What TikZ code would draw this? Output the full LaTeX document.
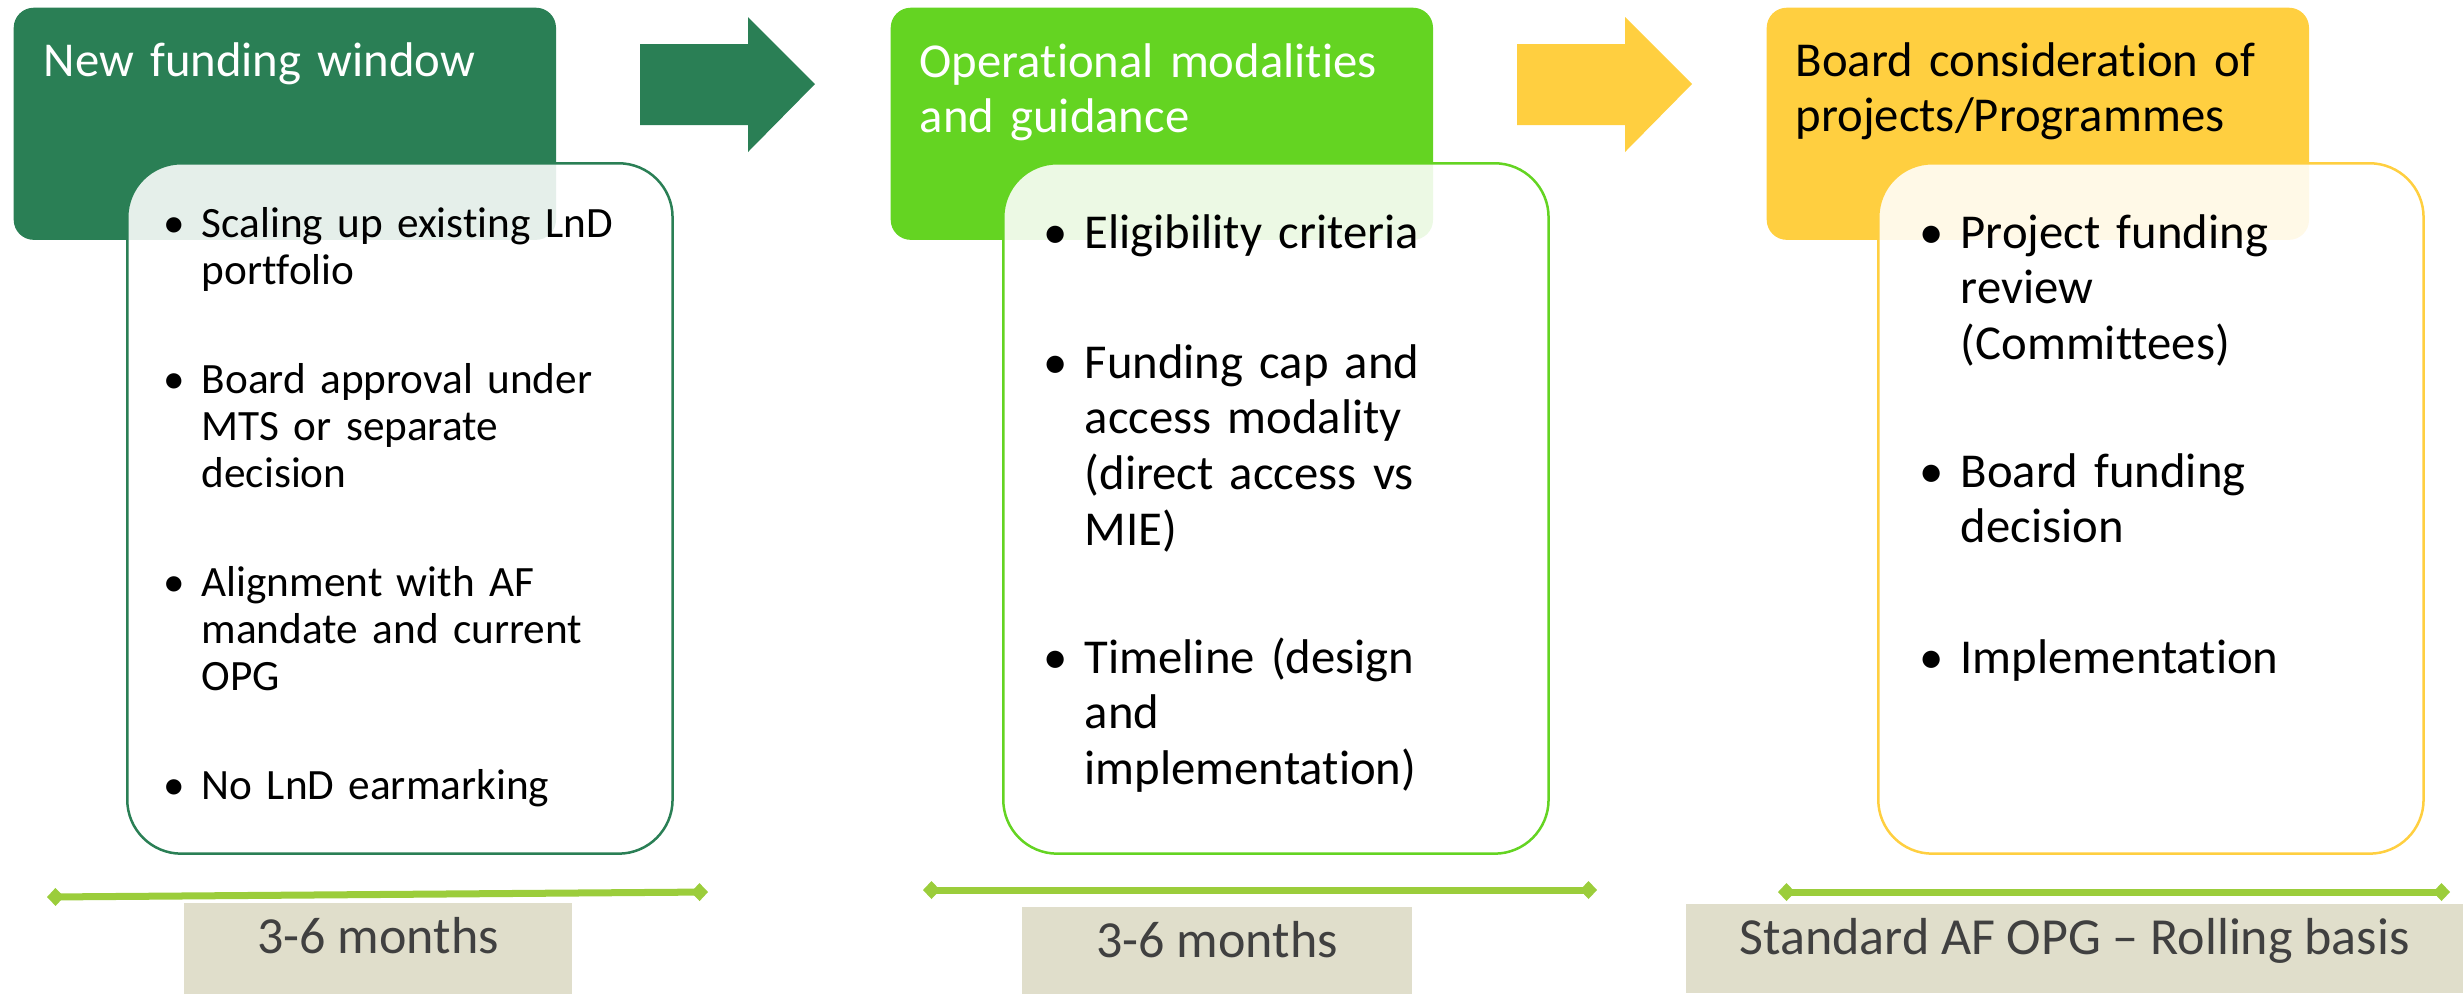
\documentclass[tikz,border=0pt]{standalone}
\usepackage{fontspec}
\setmainfont[Ligatures={NoCommon,NoContextual}]{Carlito}
\usepackage{tikz}
\usetikzlibrary{arrows.meta}

\definecolor{dkgreen}{RGB}{42,127,85}
\definecolor{ltgreen}{RGB}{100,212,34}
\definecolor{gold}{RGB}{255,207,64}
\definecolor{lime}{RGB}{155,205,59}
\definecolor{sand}{RGB}{224,222,203}
\definecolor{ink}{RGB}{64,64,64}
\newcommand{\bul}{\makebox[0pt][r]{\textbullet\hspace{0.17cm}}}

\begin{document}
\begin{tikzpicture}[x=0.01cm,y=-0.01cm]
		\tikzstyle{head}=[rectangle,rounded corners=0.2cm,anchor=north west,inner sep=0pt,minimum width=5.42cm,minimum height=2.32cm]
		\tikzstyle{card}=[rectangle,rounded corners=0.54cm,anchor=north west,inner sep=0pt,fill=white,fill opacity=0.88,line width=0.025cm,minimum width=5.45cm,minimum height=6.9cm]
		\tikzstyle{title}=[anchor=base west,inner sep=0pt,text width=5cm,align=left,font=\fontsize{13.85}{15.9}\selectfont]
		\tikzstyle{itemA}=[anchor=base west,inner sep=0pt,text width=4.5cm,align=left,font=\fontsize{12.3}{13.4}\selectfont]
		\tikzstyle{item}=[itemA,font=\fontsize{13.85}{15.9}\selectfont]
		\tikzstyle{tline}=[lime,line width=0.07cm,{Diamond[length=0.17cm,width=0.18cm]}-{Diamond[length=0.17cm,width=0.18cm]}]
		\tikzstyle{period}=[fill=sand,text=ink,anchor=north,inner sep=0pt,text height=0.51cm,font=\fontsize{14.8}{17}\selectfont]
		\useasboundingbox (0,0) rectangle (2463,993);
		
		% step headers
		\node[head,fill=dkgreen] (hA) at (13,7) {};
		\node[head,fill=ltgreen] (hB) at (890,7) {};
		\node[head,fill=gold] (hC) at (1766,7) {};
		\foreach \dx/\col in {0/dkgreen,877/gold}{
			\fill[\col] (640+\dx,44) -- (748+\dx,44) -- (748+\dx,17) -- (815+\dx,84) -- (748+\dx,152) -- (748+\dx,125) -- (640+\dx,125) -- cycle;
		};
		
		% detail cards
		\node[card,draw=dkgreen] (cA) at (126,162) {};
		\node[card,draw=ltgreen] (cB) at (1002,162) {};
		\node[card,draw=gold] (cC) at (1877,162) {};
		
		\node[title,text=white] (tA) at (43,76) {New funding window};
		\node[title,text=white] (tB) at (919,77) {Operational modalities\\and guidance};
		\node[title] (tC) at (1795,76) {Board consideration of\\projects/Programmes};
		
		\node[itemA] (a1) at (201,237) {\bul Scaling up existing LnD\\portfolio};
		\node[itemA] (a2) at (201,393) {\bul Board approval under\\MTS or separate\\decision};
		\node[itemA] (a3) at (201,596) {\bul Alignment with AF\\mandate and current\\OPG};
		\node[itemA] (a4) at (201,799) {\bul No LnD earmarking};
		
		\node[item] (b1) at (1084,248) {\bul Eligibility criteria};
		\node[item] (b2) at (1084,378) {\bul Funding cap and\\access modality\\(direct access vs\\MIE)};
		\node[item] (b3) at (1084,673) {\bul Timeline (design\\and\\implementation)};
		
		\node[item] (c1) at (1960,248) {\bul Project funding\\review\\(Committees)};
		\node[item] (c2) at (1960,487) {\bul Board funding\\decision};
		\node[item] (c3) at (1960,673) {\bul Implementation};
		
		% timelines
		\coordinate (sA) at (47,897);
		\coordinate (eA) at (708,892);
		\coordinate (sB) at (923,890);
		\coordinate (eB) at (1597,890);
		\coordinate (sC) at (1778,892);
		\coordinate (eC) at (2450,892);
		\draw[tline] (sA) -- (eA);
		\draw[tline] (sB) -- (eB);
		\draw[tline] (sC) -- (eC);
		
		\node[period,minimum width=3.88cm,text depth=0.40cm] (pA) at (378,902) {3-6 months};
		\node[period,minimum width=3.90cm,text depth=0.36cm] (pB) at (1217,906) {3-6 months};
		\node[period,minimum width=7.77cm,text depth=0.38cm] (pC) at (2074.5,903) {Standard AF OPG – Rolling basis};
	\end{tikzpicture}
\end{document}
